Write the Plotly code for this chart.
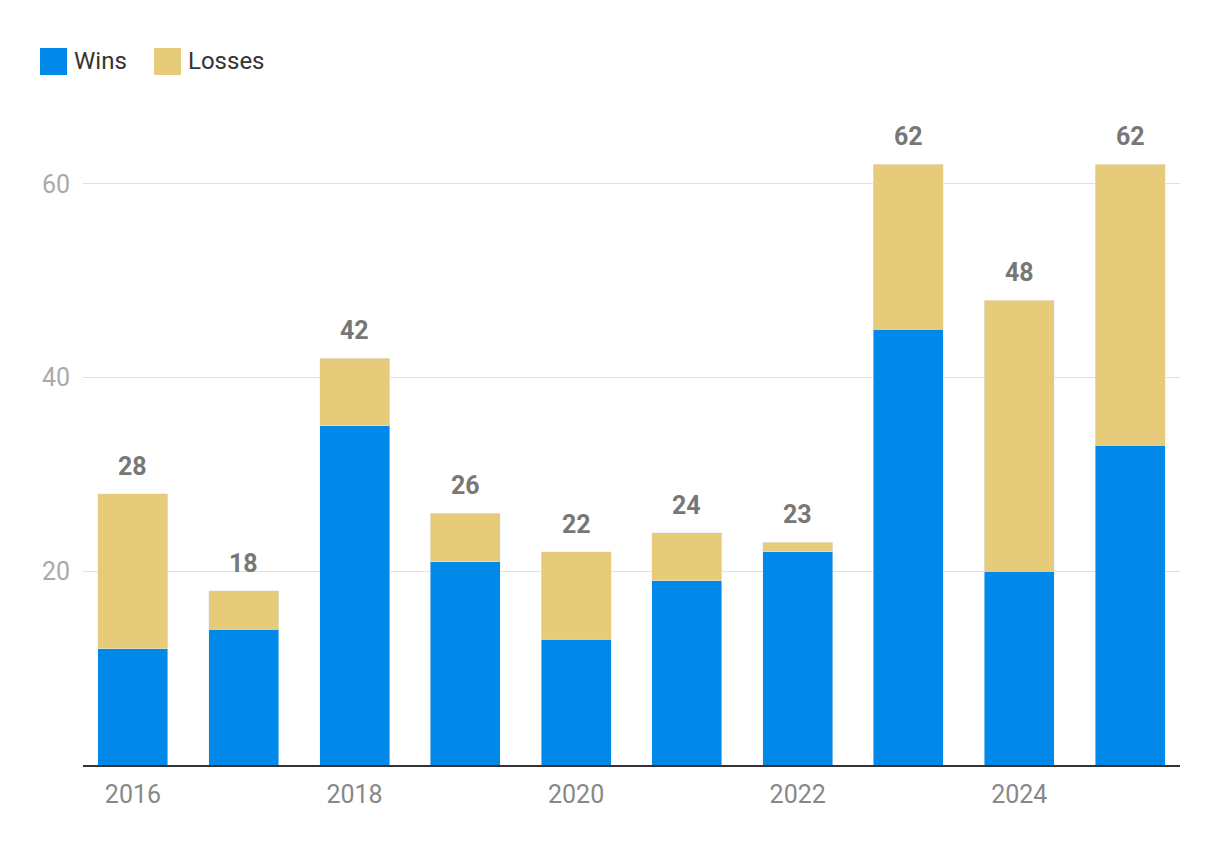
import plotly.graph_objects as go

years = [2016, 2017, 2018, 2019, 2020, 2021, 2022, 2023, 2024, 2025]
wins = [12, 14, 35, 21, 13, 19, 22, 45, 20, 33]
losses = [16, 4, 7, 5, 9, 5, 1, 17, 28, 29]
totals = [w + l for w, l in zip(wins, losses)]

BLUE = "#0089E8"
GOLD = "#E5CB7A"
FONT = "Roboto, sans-serif"

fig = go.Figure()
fig.add_bar(x=years, y=wins, name="Wins", marker_color=BLUE, width=0.632)
fig.add_bar(x=years, y=losses, name="Losses", marker_color=GOLD, width=0.632)

for yr, t in zip(years, totals):
    fig.add_annotation(x=yr, y=t, text=f"<b>{t}</b>", showarrow=False,
                       yanchor="bottom", yshift=11,
                       font=dict(family=FONT, size=25, color="#777777"))

# legend drawn manually
fig.add_shape(type="rect", xref="paper", yref="paper",
              x0=(40 - 83) / 1097, x1=(67 - 83) / 1097,
              y0=(765 - 75) / 650, y1=(765 - 48) / 650, fillcolor=BLUE, line_width=0)
fig.add_annotation(xref="paper", yref="paper", x=(72 - 83) / 1097, y=(765 - 61.5) / 650,
                   text="Wins", showarrow=False, xanchor="left", yanchor="middle",
                   font=dict(family=FONT, size=24, color="#333333"))
fig.add_shape(type="rect", xref="paper", yref="paper",
              x0=(154 - 83) / 1097, x1=(181 - 83) / 1097,
              y0=(765 - 75) / 650, y1=(765 - 48) / 650, fillcolor=GOLD, line_width=0)
fig.add_annotation(xref="paper", yref="paper", x=(186 - 83) / 1097, y=(765 - 61.5) / 650,
                   text="Losses", showarrow=False, xanchor="left", yanchor="middle",
                   font=dict(family=FONT, size=24, color="#333333"))

fig.update_layout(
    width=1220, height=860,
    barmode="stack",
    showlegend=False,
    plot_bgcolor="white", paper_bgcolor="white",
    margin=dict(l=75, r=48, t=107, b=103),
    font=dict(family=FONT),
)
fig.update_xaxes(range=[2015.549, 2025.451], tickvals=[2016, 2018, 2020, 2022, 2024],
                 ticktext=["2016", "2018", "2020", "2022", "2024"],
                 showline=True, linecolor="#333333", linewidth=2, showgrid=False,
                 ticks="", ticklabelstandoff=6,
                 tickfont=dict(family=FONT, size=25, color="#888888"))
fig.update_yaxes(range=[0, 67.1], tickvals=[20, 40, 60], showline=False,
                 gridcolor="#e0e0e0", gridwidth=1, zeroline=False, ticks="",
                 ticklabelstandoff=12,
                 tickfont=dict(family=FONT, size=25, color="#aaaaaa"))

fig.write_html("out.html")
